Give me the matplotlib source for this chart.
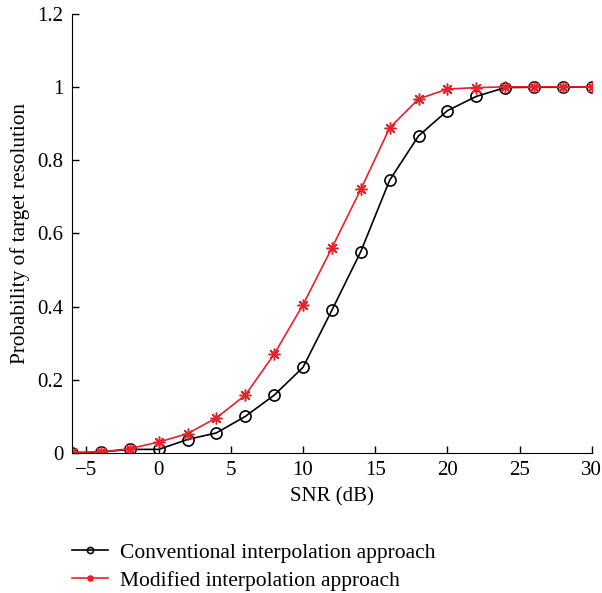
import numpy as np
import matplotlib
matplotlib.use('Agg')
import matplotlib.pyplot as plt

snr = [-6, -4, -2, 0, 2, 4, 6, 8, 10, 12, 14, 16, 18, 20, 22, 24, 26, 28, 30]
p_conventional = [0.0, 0.003, 0.01, 0.01, 0.037, 0.055, 0.10, 0.158, 0.234, 0.39, 0.55,
                  0.745, 0.866, 0.935, 0.974, 0.998, 0.999, 0.999, 1.0]
p_modified = [0.002, 0.003, 0.012, 0.03, 0.053, 0.096, 0.158, 0.27, 0.405, 0.56, 0.72,
              0.888, 0.967, 0.994, 0.998, 1.0, 1.0, 1.0, 1.0]
xticks = [-5, 0, 5, 10, 15, 20, 25, 30]
yticks = [0, 0.2, 0.4, 0.6, 0.8, 1.0, 1.2]
ytick_labels = ['0', '0.2', '0.4', '0.6', '0.8', '1', '1.2']

plt.rcParams['font.family'] = ['Liberation Serif', 'DejaVu Serif']
plt.rcParams['font.size'] = 15

fig = plt.figure(figsize=(6.02, 5.93), dpi=100)
ax = fig.add_axes([0.1196, 0.236, 0.8634, 0.741])

ax.plot(snr, p_conventional, color='black', lw=1.2, marker='o', ms=8,
        mfc='none', mec='black', mew=1.2, label='Conventional interpolation approach')
# eight-armed asterisk marker
ax.plot(snr, p_modified, color='#e8212b', lw=1.2, marker=(8, 2, 0), ms=8.5,
        mfc='#e8212b', mec='#e8212b', mew=1.1, label='Modified interpolation approach')

ax.set_xlim(-6, 30)
ax.set_ylim(0, 1.2)
ax.set_xticks(xticks)
ax.set_xticklabels(['\u2212' + str(-t) if t < 0 else str(t) for t in xticks])
ax.set_yticks(yticks)
ax.set_yticklabels(ytick_labels)
ax.tick_params(direction='in', length=5, width=1, labelsize=15, pad=6)
ax.spines['top'].set_visible(False)
ax.spines['right'].set_visible(False)
ax.set_xlabel('SNR (dB)', fontsize=15, labelpad=5)
ax.set_ylabel('Probability of target resolution', fontsize=15.3, labelpad=5.5)

ax.legend(loc='upper left', bbox_to_anchor=(0.0, -0.204), frameon=False,
          fontsize=15.5, handlelength=1.67, handletextpad=0.56, markerscale=0.55,
          labelspacing=0.36, borderaxespad=0, borderpad=0)

fig.savefig('out.png', dpi=100)
